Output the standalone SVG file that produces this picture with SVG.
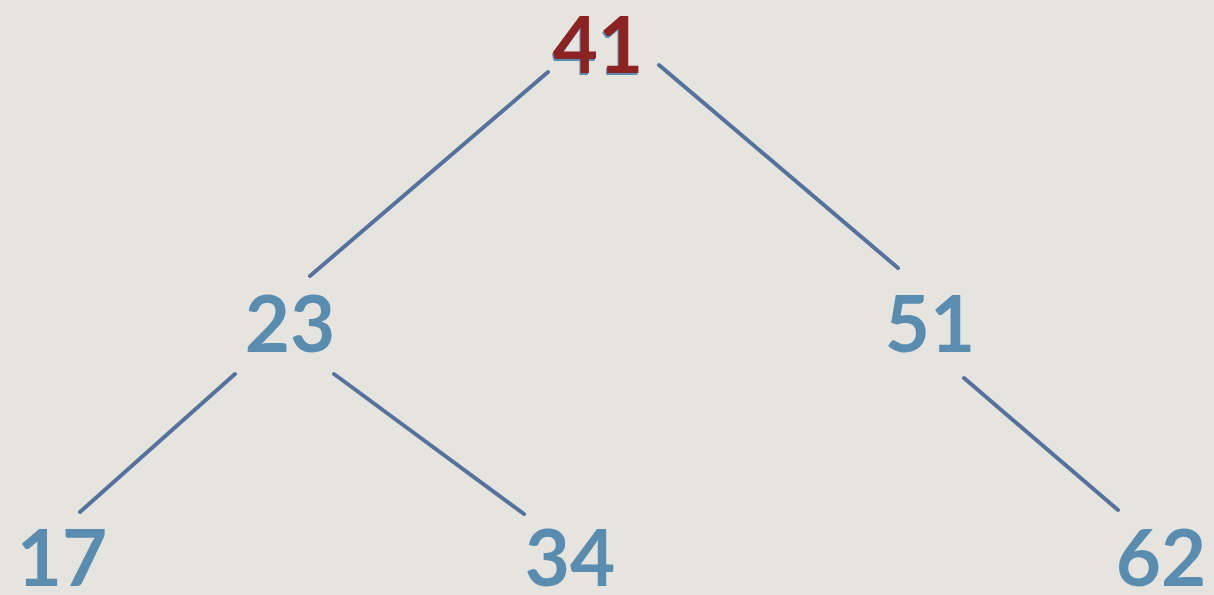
<svg xmlns="http://www.w3.org/2000/svg" width="1214" height="595" viewBox="0 0 1214 595">
<style>
.n{font-family:Lato,"Open Sans","DejaVu Sans",sans-serif;font-weight:700;font-size:78px;text-anchor:middle;fill:#5a8cb0}
.root{fill:#8c2222}
.sh{fill:#5a8cb0}
.e{stroke:#56729c;stroke-width:4;stroke-linecap:round;fill:none}
</style>
<rect width="1214" height="595" fill="#e5e4df"/>
<g id="connectors">
<line class="e" x1="548" y1="72" x2="310" y2="276"/>
<line class="e" x1="659" y1="65" x2="898" y2="268"/>
<line class="e" x1="235" y1="374" x2="80" y2="512"/>
<line class="e" x1="334" y1="374" x2="524" y2="514"/>
<line class="e" x1="964" y1="378" x2="1118" y2="510"/>
</g>
<g id="n41"><text class="n sh" x="597" y="75">41</text><text class="n root" x="598" y="73">41</text></g>
<g id="n23"><text class="n" x="290" y="352">23</text></g>
<g id="n51"><text class="n" x="930" y="352">51</text></g>
<g id="n17"><text class="n" x="62" y="586">17</text></g>
<g id="n34"><text class="n" x="570" y="586">34</text></g>
<g id="n62"><text class="n" x="1161" y="586">62</text></g>
</svg>
